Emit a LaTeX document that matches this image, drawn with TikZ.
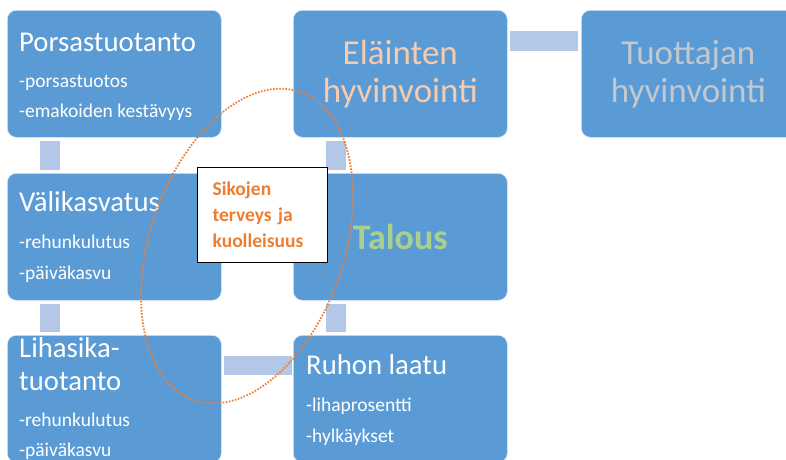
\documentclass[tikz,border=0pt]{standalone}
\usepackage{fontspec}
\setmainfont{Carlito}
\usepackage{xcolor}
\usetikzlibrary{positioning,calc}

\definecolor{boxblue}{HTML}{5B9BD5}
\definecolor{linkblue}{HTML}{B4C7E7}
\definecolor{peach}{HTML}{F8CBAD}
\definecolor{paletext}{HTML}{C3C8CE}
\definecolor{talgreen}{HTML}{A9D18E}
\definecolor{callorange}{HTML}{ED7D31}

\begin{document}
\begin{tikzpicture}[x=1pt, y=-1pt,
  box/.style={rectangle, rounded corners=9pt, fill=boxblue, draw=white!75!boxblue, line width=0.6pt,
    minimum width=\boxw, minimum height=\boxh, anchor=north west, inner sep=0pt},
  title/.style={anchor=base west, inner sep=0pt, text=white, font=\fontsize{28.7}{33}\selectfont},
  sub/.style={anchor=base west, inner sep=0pt, text=white, font=\fontsize{19.5}{24}\selectfont},
  big/.style={align=center, font=\fontsize{35}{40}\selectfont},
  link/.style={fill=linkblue},
  callout/.style={rectangle, draw=black, line width=1.3pt, fill=white, anchor=north west,
    minimum width=130pt, minimum height=95pt, text width=100pt, inner xsep=15pt, align=left,
    text=callorange, font=\bfseries\fontsize{19.5}{26}\selectfont}]
\def\boxw{214pt}
\def\boxh{127pt}
\clip (0,0) rectangle (786,459);
% boxes
\node[box] (pors) at (7,10) {};
\node[box] (vali) at (7,173) {};
\node[box] (liha) at (7,335) {};
\node[box, big, text=peach] (elain) at (293,10) {Eläinten\\[-2pt]hyvinvointi};
\node[box, big, text=paletext] (tuot) at (581,10) {Tuottajan\\[-2pt]hyvinvointi};
\node[box, text=talgreen, font=\bfseries\fontsize{36}{40}\selectfont] (talous) at (293,173) {Talous};
\node[box] (ruhon) at (293,335) {};
% connectors
\foreach \a/\b in {pors/vali, vali/liha, elain/talous, talous/ruhon}
  \fill[link] ([shift={(33pt,-3pt)}]\a.south west) rectangle ([shift={(53pt,3pt)}]\b.north west);
\fill[link] ([shift={(2pt,-21pt)}]elain.north east) rectangle ([shift={(-3pt,-41pt)}]tuot.north west);
\fill[link] ([shift={(2pt,-21pt)}]liha.north east) rectangle ([shift={(-1pt,-40pt)}]ruhon.north west);
% titles and items
\node[title] (porsT) at (19,51) {Porsastuotanto};
\node[title] (valiT) at (19,211) {Välikasvatus};
\node[title] (lihaT) at (19,357) {Lihasika-};
\node[title] (lihaT2) at (19,390) {tuotanto};
\node[title] (ruhonT) at (306,374) {Ruhon laatu};
\foreach [count=\i] \x/\y/\txt in {19/87/-porsastuotos, 19/117/-emakoiden kestävyys,
    19/248/-rehunkulutus, 19/279/-päiväkasvu, 19/426/-rehunkulutus, 19/456/-päiväkasvu,
    306/411/-lihaprosentti, 306/442/-hylkäykset}
  \node[sub] (item\i) at (\x,\y) {\txt};
% health note
\node[callout] (terveys) at (197,167) {Sikojen\\terveys ja\\kuolleisuus};
\draw[callorange, line width=1.8pt, dash pattern=on 1.6pt off 1.5pt, rotate around={-19:(247,246)}]
  (247,246) ellipse [x radius=97, y radius=163];
\end{tikzpicture}
\end{document}
